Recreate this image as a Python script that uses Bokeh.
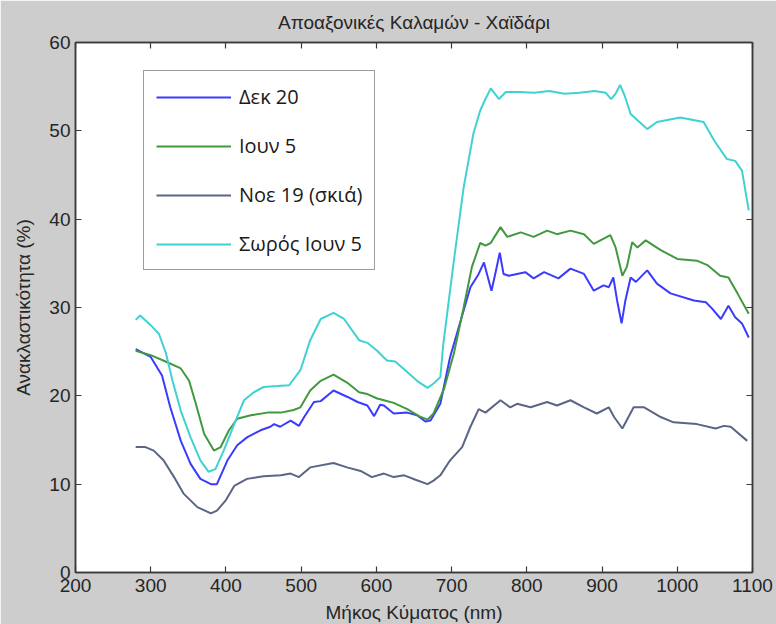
from bokeh.plotting import figure
from bokeh.models import LinearAxis, FixedTicker, Legend, LegendItem, Range1d
from bokeh.embed import file_html
from bokeh.resources import INLINE

# ---- data ----
title_text = "Αποαξονικές Καλαμών - Χαϊδάρι"
x_label = "Μήκος Κύματος (nm)"
y_label = "Ανακλαστικότητα (%)"
x_ticks = [200, 300, 400, 500, 600, 700, 800, 900, 1000, 1100]
y_ticks = [0, 10, 20, 30, 40, 50, 60]

names = ["Δεκ 20", "Ιουν 5", "Νοε 19 (σκιά)", "Σωρός Ιουν 5"]

wl_dek = [280, 300, 315, 326, 340, 353, 366, 380, 388, 402, 415, 428, 446, 459, 464, 472, 486, 497, 504, 517,
          526, 543, 561, 575, 588, 597, 605, 610, 623, 641, 654, 665, 672, 685, 698, 712, 725, 736, 743, 747,
          753, 758, 764, 769, 776, 798, 809, 823, 842, 858, 876, 889, 902, 909, 915, 920, 926, 931, 938, 945,
          960, 973, 991, 1022, 1038, 1046, 1058, 1068, 1077, 1086, 1095]
val_dek = [25.3, 24.4, 22.3, 18.7, 14.9, 12.3, 10.6, 10.0, 10.0, 12.7, 14.4, 15.3, 16.1, 16.5, 16.8, 16.5, 17.2,
           16.6, 17.6, 19.3, 19.4, 20.6, 19.9, 19.3, 18.9, 17.7, 19.0, 18.9, 18.0, 18.1, 17.8, 17.1, 17.2, 19.1,
           24.4, 28.5, 32.3, 33.8, 35.1, 33.8, 31.9, 33.8, 36.2, 33.8, 33.6, 34.0, 33.3, 34.0, 33.3, 34.4, 33.8,
           31.9, 32.5, 32.3, 33.4, 30.8, 28.2, 30.8, 33.4, 32.9, 34.2, 32.7, 31.6, 30.8, 30.6, 29.9, 28.7, 30.2,
           28.9, 28.2, 26.6]

wl_iun = [280, 300, 322, 340, 351, 360, 371, 384, 393, 404, 415, 433, 455, 473, 490, 499, 512, 526, 543, 561,
          577, 588, 601, 610, 623, 641, 659, 668, 676, 690, 703, 716, 727, 738, 745, 752, 765, 774, 792, 809,
          827, 840, 858, 876, 889, 911, 918, 927, 933, 940, 947, 958, 978, 1000, 1026, 1040, 1057, 1068, 1080,
          1095]
val_iun = [25.1, 24.6, 23.8, 23.1, 21.7, 19.1, 15.7, 13.8, 14.2, 16.1, 17.4, 17.8, 18.1, 18.1, 18.4, 18.7, 20.6,
           21.7, 22.4, 21.5, 20.4, 20.2, 19.7, 19.5, 19.2, 18.5, 17.6, 17.3, 18.0, 20.8, 24.8, 30.0, 34.6, 37.3,
           37.0, 37.3, 39.1, 38.0, 38.5, 38.0, 38.7, 38.3, 38.7, 38.3, 37.2, 38.2, 36.8, 33.6, 34.6, 37.4, 36.8,
           37.6, 36.5, 35.5, 35.3, 34.8, 33.6, 33.4, 31.6, 29.3]

wl_noe = [280, 293, 304, 317, 331, 344, 362, 380, 388, 400, 411, 428, 450, 473, 486, 497, 512, 543, 561, 579,
          594, 610, 623, 637, 652, 668, 676, 685, 698, 714, 725, 736, 745, 765, 778, 787, 805, 827, 840, 858,
          876, 893, 909, 916, 927, 942, 956, 978, 995, 1026, 1051, 1062, 1071, 1093]
val_noe = [14.2, 14.2, 13.8, 12.7, 10.8, 8.9, 7.4, 6.7, 7.0, 8.2, 9.8, 10.6, 10.9, 11.0, 11.2, 10.8, 11.9, 12.4,
           11.9, 11.5, 10.8, 11.2, 10.8, 11.0, 10.5, 10.0, 10.4, 11.0, 12.7, 14.2, 16.5, 18.5, 18.1, 19.5, 18.7,
           19.1, 18.7, 19.3, 18.9, 19.5, 18.7, 18.0, 18.7, 17.6, 16.3, 18.7, 18.7, 17.6, 17.0, 16.8, 16.3, 16.6,
           16.5, 14.9]

wl_sor = [280, 286, 300, 311, 320, 329, 340, 353, 366, 377, 386, 397, 411, 424, 437, 450, 468, 484, 499, 512,
          526, 543, 557, 577, 588, 601, 614, 625, 641, 654, 668, 676, 685, 689, 703, 716, 729, 738, 745, 752,
          763, 772, 790, 810, 830, 850, 870, 890, 905, 912, 918, 924, 930, 938, 960, 973, 1004, 1035, 1049,
          1066, 1077, 1086, 1095]
val_sor = [28.6, 29.1, 28.0, 27.0, 24.9, 21.7, 18.3, 15.3, 12.7, 11.4, 11.7, 13.8, 16.8, 19.5, 20.4, 21.0, 21.1,
           21.2, 22.9, 26.3, 28.7, 29.4, 28.7, 26.3, 26.0, 25.1, 24.0, 23.9, 22.7, 21.7, 20.9, 21.4, 22.1, 25.9,
           35.3, 43.6, 49.7, 52.3, 53.6, 54.8, 53.6, 54.4, 54.4, 54.3, 54.5, 54.2, 54.3, 54.5, 54.3, 53.6, 54.2,
           55.2, 54.0, 51.9, 50.2, 51.0, 51.5, 51.0, 48.9, 46.8, 46.6, 45.5, 41.0]

colors = ["#3b3bff", "#41993f", "#5b6585", "#40d2d2"]

# ---- figure ----
tick_font = "'Liberation Sans', sans-serif"
text_col = "#262626"

p = figure(frame_width=677, frame_height=530, output_backend="svg", toolbar_location=None,
           x_range=Range1d(200, 1100), y_range=Range1d(0, 60),
           min_border_left=75, min_border_right=24, min_border_top=42, min_border_bottom=52,
           background_fill_color="white", border_fill_color="#cdcdcd")
p.title.text = title_text
p.title.align = "center"
p.title.text_font = tick_font
p.title.text_font_size = "19px"
p.title.text_font_style = "normal"
p.title.text_color = text_col
p.title.standoff = 19

p.outline_line_color = "#3a3a3a"
p.outline_line_width = 1.5
p.xgrid.visible = False
p.ygrid.visible = False

def style_axis(ax, labels=True):
    ax.major_tick_in = 6
    ax.major_tick_out = 0
    ax.minor_tick_in = 0
    ax.minor_tick_out = 0
    ax.axis_line_color = "#3a3a3a"
    ax.axis_line_width = 1.5
    ax.major_tick_line_color = "#3a3a3a"
    ax.major_tick_line_width = 1.2
    ax.major_label_text_font = tick_font
    ax.major_label_text_color = text_col
    ax.major_label_text_font_size = "19px" if labels else "1px"
    ax.major_label_standoff = 6 if labels else 0
    ax.axis_label_text_font = tick_font
    ax.axis_label_text_font_size = "19px"
    ax.axis_label_text_font_style = "normal"
    ax.axis_label_text_color = text_col

p.xaxis.ticker = FixedTicker(ticks=x_ticks)
p.yaxis.ticker = FixedTicker(ticks=y_ticks)
style_axis(p.xaxis[0])
style_axis(p.yaxis[0])
p.yaxis.major_label_standoff = 5
p.xaxis.axis_label = x_label
p.yaxis.axis_label = y_label
p.xaxis.axis_label_standoff = 7
p.yaxis.axis_label_standoff = 12

top_ax = LinearAxis(ticker=FixedTicker(ticks=x_ticks),
                    major_label_overrides={t: "" for t in x_ticks})
right_ax = LinearAxis(ticker=FixedTicker(ticks=y_ticks),
                      major_label_overrides={t: "" for t in y_ticks})
style_axis(top_ax, labels=False)
style_axis(right_ax, labels=False)
p.add_layout(top_ax, "above")
p.add_layout(right_ax, "right")

series = [(wl_dek, val_dek), (wl_iun, val_iun), (wl_noe, val_noe), (wl_sor, val_sor)]
items = []
for (xs, ys), name, col in zip(series, names, colors):
    r = p.line(xs, ys, line_color=col, line_width=2)
    items.append(LegendItem(label=name, renderers=[r]))

legend = Legend(items=items, location=(68, 302))
legend.label_text_font = "'Open Sans', 'Noto Sans', sans-serif"
legend.label_text_font_size = "20px"
legend.label_text_color = "#1a1a1a"
legend.glyph_width = 75
legend.glyph_height = 26
legend.label_height = 26
legend.spacing = 22
legend.padding = 12
legend.margin = 0
legend.label_standoff = 8
legend.border_line_color = "#3a3a3a"
legend.border_line_width = 1.5
legend.background_fill_color = "white"
legend.background_fill_alpha = 1
p.add_layout(legend, "center")

open("out.html", "w").write(file_html(p, INLINE))
